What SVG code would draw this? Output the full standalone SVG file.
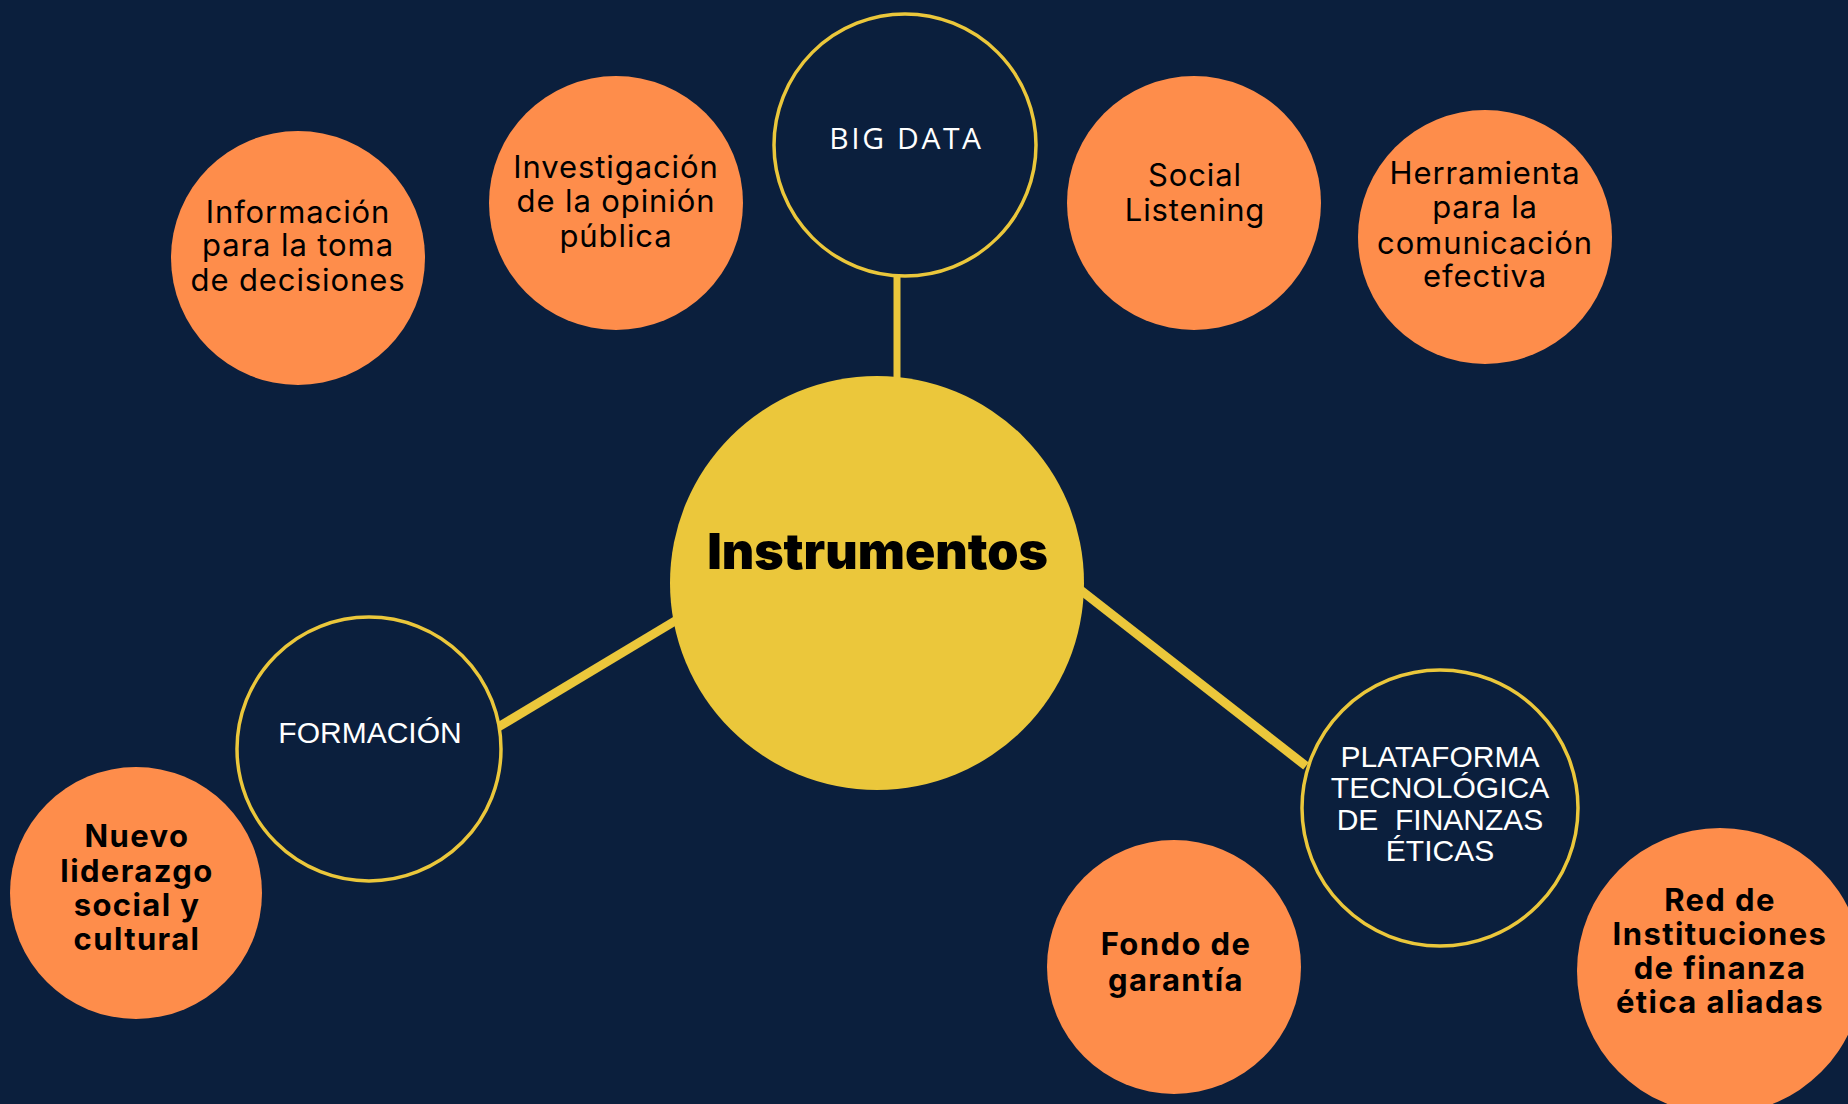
<svg xmlns="http://www.w3.org/2000/svg" width="1848" height="1104" viewBox="0 0 1848 1104">
<style>
.bg{fill:#0b1f3d}
.orange{fill:#fe8d4b}
.ring{fill:#0b1f3d;stroke:#ebc73b;stroke-width:3.5}
.core{fill:#ebc73b}
.link{stroke:#ebc73b;stroke-linecap:butt;fill:none}
.reg{font-family:Inter,"Liberation Sans",sans-serif;font-size:31px;font-weight:400;fill:#000;text-anchor:middle;letter-spacing:0.9px}
.bold{font-family:Inter,"Liberation Sans",sans-serif;font-size:31px;font-weight:700;fill:#000;text-anchor:middle;letter-spacing:1.4px}
.cap{font-family:"Liberation Sans",Arial,sans-serif;font-size:30px;fill:#fff;text-anchor:middle}
.big{font-family:"Open Sans","Noto Sans",sans-serif;font-size:30px;font-weight:500;fill:#fff;text-anchor:middle;letter-spacing:2.6px}
.title{font-family:Inter,"Liberation Sans",sans-serif;font-size:50px;font-weight:900;fill:#000;text-anchor:middle}
</style>
<rect class="bg" x="0" y="0" width="1848" height="1104"/>
<g id="connectors">
<line class="link" x1="897" y1="276" x2="897" y2="390" stroke-width="7"/>
<line class="link" x1="495" y1="729" x2="690" y2="612" stroke-width="9"/>
<line class="link" x1="1060" y1="574" x2="1306" y2="766" stroke-width="9"/>
</g>
<g id="node-informacion">
<circle class="orange" cx="298" cy="258" r="127"/>
<text class="reg"><tspan x="298" y="222.5">Información</tspan><tspan x="298" y="256">para la toma</tspan><tspan x="298" y="290.5">de decisiones</tspan></text>
</g>
<g id="node-investigacion">
<circle class="orange" cx="616" cy="203" r="127"/>
<text class="reg"><tspan x="616" y="178">Investigación</tspan><tspan x="616" y="212">de la opinión</tspan><tspan x="616" y="246.5">pública</tspan></text>
</g>
<g id="node-bigdata">
<circle class="ring" cx="905" cy="145" r="131"/>
<text class="big" x="906.5" y="149.3">BIG DATA</text>
</g>
<g id="node-social">
<circle class="orange" cx="1194" cy="203" r="127"/>
<text class="reg"><tspan x="1195" y="185.6">Social</tspan><tspan x="1195" y="220.8">Listening</tspan></text>
</g>
<g id="node-herramienta">
<circle class="orange" cx="1485" cy="237" r="127"/>
<text class="reg"><tspan x="1485" y="184">Herramienta</tspan><tspan x="1485" y="218.3">para la</tspan><tspan x="1485" y="253.5">comunicación</tspan><tspan x="1485" y="287">efectiva</tspan></text>
</g>
<g id="node-instrumentos">
<circle class="core" cx="877" cy="583" r="207"/>
<text class="title" x="877.5" y="569">Instrumentos</text>
</g>
<g id="node-formacion">
<circle class="ring" cx="369" cy="749" r="132"/>
<text class="cap" x="370" y="742.7">FORMACIÓN</text>
</g>
<g id="node-nuevo">
<circle class="orange" cx="136" cy="893" r="126"/>
<text class="bold"><tspan x="137" y="847">Nuevo</tspan><tspan x="137" y="881.5">liderazgo</tspan><tspan x="137" y="916">social y</tspan><tspan x="137" y="950">cultural</tspan></text>
</g>
<g id="node-plataforma">
<circle class="ring" cx="1440" cy="808" r="138"/>
<text class="cap" xml:space="preserve"><tspan x="1440" y="767">PLATAFORMA</tspan><tspan x="1440" y="798">TECNOLÓGICA</tspan><tspan x="1440" y="830">DE  FINANZAS</tspan><tspan x="1440" y="861">ÉTICAS</tspan></text>
</g>
<g id="node-fondo">
<circle class="orange" cx="1174" cy="967" r="127"/>
<text class="bold"><tspan x="1176" y="955">Fondo de</tspan><tspan x="1176" y="990.7">garantía</tspan></text>
</g>
<g id="node-red">
<circle class="orange" cx="1720" cy="971" r="143"/>
<text class="bold"><tspan x="1720" y="911">Red de</tspan><tspan x="1720" y="945">Instituciones</tspan><tspan x="1720" y="979">de finanza</tspan><tspan x="1720" y="1013">ética aliadas</tspan></text>
</g>
</svg>
